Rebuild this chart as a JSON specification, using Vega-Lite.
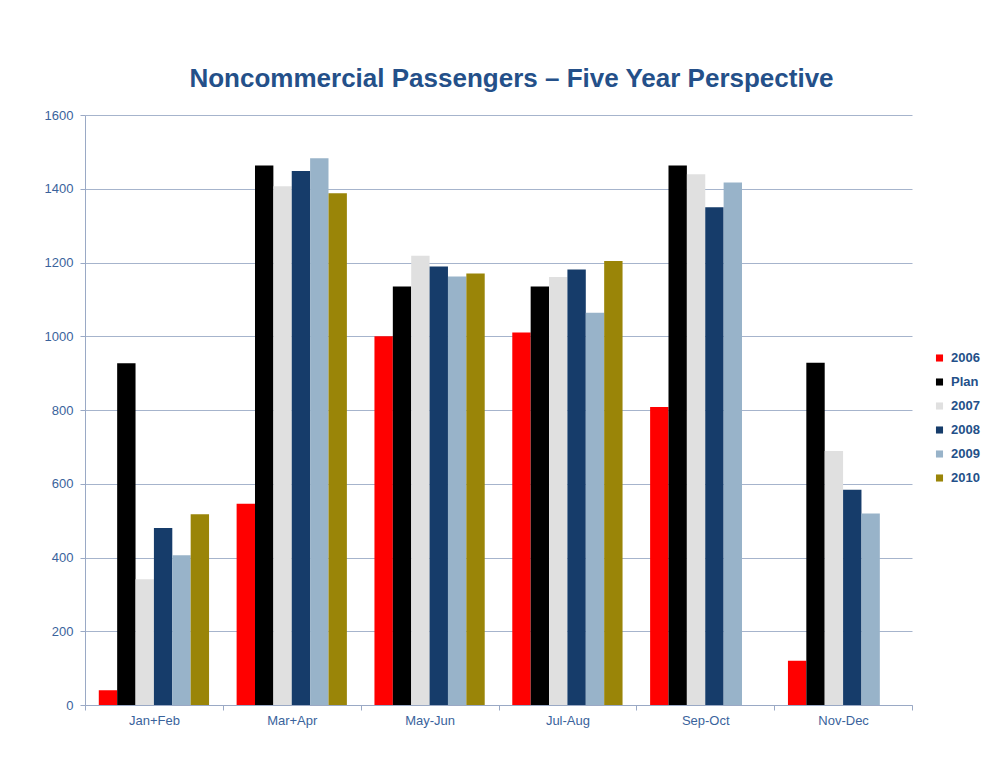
{
  "$schema": "https://vega.github.io/schema/vega-lite/v6.json",
  "autosize": "none",
  "width": 827,
  "height": 590,
  "padding": {"left": 85, "top": 115, "right": 95, "bottom": 55},
  "background": "white",
  "title": {
    "text": "Noncommercial Passengers – Five Year Perspective",
    "font": "Liberation Sans",
    "fontSize": 26,
    "fontWeight": "bold",
    "color": "#245089",
    "anchor": "middle",
    "dx": 13,
    "offset": 17
  },
  "data": {
    "values": [
      {"period": "Jan+Feb", "series": "2006", "value": 40},
      {"period": "Jan+Feb", "series": "Plan", "value": 927},
      {"period": "Jan+Feb", "series": "2007", "value": 341},
      {"period": "Jan+Feb", "series": "2008", "value": 480},
      {"period": "Jan+Feb", "series": "2009", "value": 406},
      {"period": "Jan+Feb", "series": "2010", "value": 517},
      {"period": "Mar+Apr", "series": "2006", "value": 546},
      {"period": "Mar+Apr", "series": "Plan", "value": 1463},
      {"period": "Mar+Apr", "series": "2007", "value": 1407},
      {"period": "Mar+Apr", "series": "2008", "value": 1448},
      {"period": "Mar+Apr", "series": "2009", "value": 1483},
      {"period": "Mar+Apr", "series": "2010", "value": 1388},
      {"period": "May-Jun", "series": "2006", "value": 1000},
      {"period": "May-Jun", "series": "Plan", "value": 1135},
      {"period": "May-Jun", "series": "2007", "value": 1218},
      {"period": "May-Jun", "series": "2008", "value": 1189},
      {"period": "May-Jun", "series": "2009", "value": 1162},
      {"period": "May-Jun", "series": "2010", "value": 1170},
      {"period": "Jul-Aug", "series": "2006", "value": 1010},
      {"period": "Jul-Aug", "series": "Plan", "value": 1135},
      {"period": "Jul-Aug", "series": "2007", "value": 1161},
      {"period": "Jul-Aug", "series": "2008", "value": 1181},
      {"period": "Jul-Aug", "series": "2009", "value": 1064},
      {"period": "Jul-Aug", "series": "2010", "value": 1204},
      {"period": "Sep-Oct", "series": "2006", "value": 808},
      {"period": "Sep-Oct", "series": "Plan", "value": 1463},
      {"period": "Sep-Oct", "series": "2007", "value": 1439},
      {"period": "Sep-Oct", "series": "2008", "value": 1350},
      {"period": "Sep-Oct", "series": "2009", "value": 1417},
      {"period": "Nov-Dec", "series": "2006", "value": 120},
      {"period": "Nov-Dec", "series": "Plan", "value": 928},
      {"period": "Nov-Dec", "series": "2007", "value": 689},
      {"period": "Nov-Dec", "series": "2008", "value": 584},
      {"period": "Nov-Dec", "series": "2009", "value": 519}
    ]
  },
  "mark": {"type": "bar"},
  "encoding": {
    "x": {
      "field": "period",
      "type": "nominal",
      "sort": ["Jan+Feb", "Mar+Apr", "May-Jun", "Jul-Aug", "Sep-Oct", "Nov-Dec"],
      "scale": {"paddingInner": 0, "paddingOuter": 0},
      "axis": {
        "title": null,
        "labelAngle": 0,
        "tickBand": "extent",
        "labelFont": "Liberation Sans",
        "labelFontSize": 13,
        "labelColor": "#3a639c",
        "labelPadding": 4,
        "domainColor": "#9aa9c5",
        "tickColor": "#9aa9c5",
        "tickSize": 5,
        "grid": false
      }
    },
    "xOffset": {
      "field": "series",
      "type": "nominal",
      "scale": {"domain": ["2006", "Plan", "2007", "2008", "2009", "2010"], "paddingInner": 0, "paddingOuter": 0.75}
    },
    "y": {
      "field": "value",
      "type": "quantitative",
      "scale": {"domain": [0, 1600], "nice": false},
      "axis": {
        "title": null,
        "values": [0, 200, 400, 600, 800, 1000, 1200, 1400, 1600],
        "format": "d",
        "labelFont": "Liberation Sans",
        "labelFontSize": 13,
        "labelColor": "#3a639c",
        "labelPadding": 7,
        "domainColor": "#9aa9c5",
        "tickColor": "#9aa9c5",
        "tickSize": 5,
        "gridColor": "#a6b4cc",
        "gridWidth": 1
      }
    },
    "color": {
      "field": "series",
      "type": "nominal",
      "scale": {
        "domain": ["2006", "Plan", "2007", "2008", "2009", "2010"],
        "range": ["#ff0000", "#000000", "#e0e0e0", "#163c6a", "#98b3c9", "#9a8508"]
      },
      "legend": {
        "title": null,
        "orient": "none",
        "legendX": 848,
        "legendY": 236,
        "symbolType": "square",
        "symbolSize": 50,
        "symbolStrokeWidth": 0,
        "labelFont": "Liberation Sans",
        "labelFontSize": 13,
        "labelFontWeight": "bold",
        "labelColor": "#245089",
        "labelOffset": 5,
        "clipHeight": 14,
        "rowPadding": 10,
        "padding": 0
      }
    }
  },
  "config": {
    "view": {"stroke": null}
  }
}
